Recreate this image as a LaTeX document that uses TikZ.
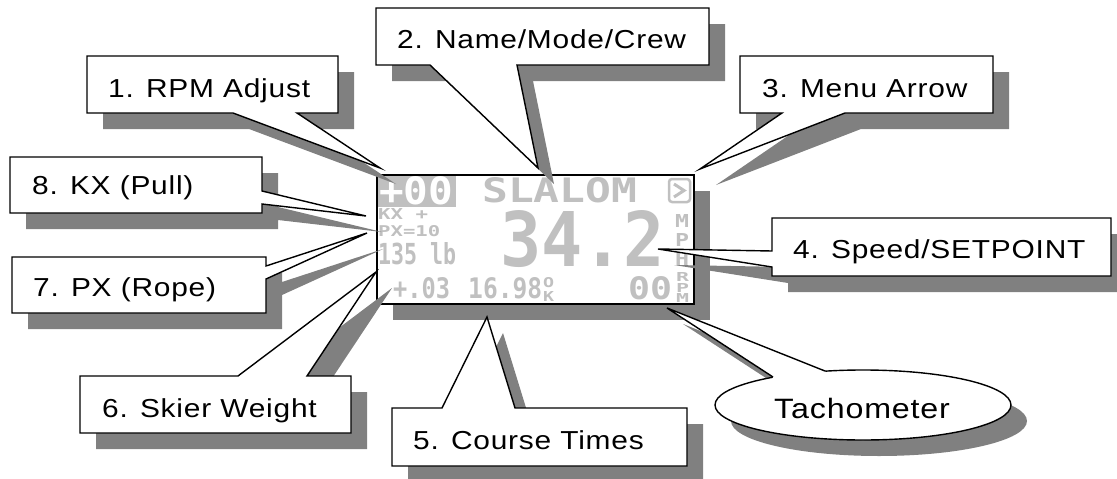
\documentclass[tikz,border=0pt]{standalone}
\usepackage{fontspec}
\newfontfamily\lblfont[FakeStretch=1.15,LetterSpace=3]{Liberation Sans}
\newfontfamily\dispfont{DejaVu Sans Mono}
\definecolor{lcd}{HTML}{C0C0C0}
\definecolor{shd}{HTML}{808080}
\newcommand\calloutA{(87,56)--(338,56)--(338,113)--(297,113)--(380,168)--(233,113)--(87,113)--cycle}
\newcommand\calloutB{(376,8)--(709,8)--(709,65)--(517,65)--(538,168)--(430,65)--(376,65)--cycle}
\newcommand\calloutC{(740,56)--(993,56)--(993,113)--(845,113)--(700,169)--(782,113)--(740,113)--cycle}
\newcommand\calloutD{(772,218)--(1111,218)--(1111,276)--(772,276)--(772,267)--(658,249)--(772,251)--cycle}
\newcommand\calloutE{(392,408)--(442,408)--(487,317)--(515,408)--(687,408)--(687,466)--(392,466)--cycle}
\newcommand\calloutF{(80,376)--(238,376)--(376,272)--(307,376)--(351,376)--(351,433)--(80,433)--cycle}
\newcommand\calloutG{(12,257)--(266,257)--(266,266)--(367,233)--(266,279)--(266,313)--(12,313)--cycle}
\newcommand\calloutH{(10,157)--(262,157)--(262,191)--(366,216)--(262,204)--(262,213)--(10,213)--cycle}
\newcommand\tachtail{(667,308)--(825,371)--(830,385)--(770,385)--(773,377)--cycle}
\begin{document}
\begin{tikzpicture}[x=1pt,y=-1pt,
  lbl/.style={anchor=base west, inner sep=0pt, font=\lblfont\fontsize{26}{30}\selectfont},
  disp/.style={anchor=south west, inner sep=0pt, text=lcd, font=\dispfont\bfseries},
  shadowfill/.style={fill=shd, draw=none},
  callout/.style={fill=white, draw=black, line width=1.4pt},
  lcdframe/.style={fill=white, draw=black, line width=2pt}]
\useasboundingbox (0,0) rectangle (1117,479);
\clip (0,0) rectangle (1117,479);
% display
\fill[shadowfill] (393,191) rectangle (710,320);
\draw[lcdframe] (377,175) rectangle (694,304);
\fill[lcd] (378,176) rectangle (456,207);
\node[disp, text=white] (crew) at (379,205) {\resizebox{74pt}{28pt}{+00}};
\node[disp] (mode) at (482,203) {\resizebox{155pt}{25pt}{SLALOM}};
\draw[lcd, line width=2.5pt, rounded corners=3pt] (669,179) rectangle (690,202);
\draw[lcd, line width=3pt] (674,184)--(684,190.5)--(674,197);
\node[disp] (kx) at (378,220) {\resizebox{50pt}{11pt}{KX +}};
\node[disp] (px) at (378,237) {\resizebox{62pt}{11pt}{PX=10}};
\node[disp] (wt) at (378,265) {\resizebox{78pt}{22pt}{135 lb}};
\node[disp] (spd) at (500,268) {\resizebox{165pt}{56pt}{34.2}};
\node[disp] (m1) at (675,228) {\resizebox{14pt}{13pt}{M}};
\node[disp] (p1) at (675,247) {\resizebox{14pt}{13pt}{P}};
\node[disp] (h1) at (675,266) {\resizebox{14pt}{13pt}{H}};
\node[disp] (adj) at (393,299) {\resizebox{57pt}{21pt}{+.03}};
\node[disp] (tm) at (468,299) {\resizebox{74pt}{21pt}{16.98}};
\node[disp] (ok1) at (543,288) {\resizebox{11pt}{10pt}{O}};
\node[disp] (ok2) at (543,302) {\resizebox{11pt}{10pt}{K}};
\node[disp] (tach) at (628,300) {\resizebox{44pt}{23pt}{00}};
\node[disp] (r2) at (676,282) {\resizebox{13pt}{9pt}{R}};
\node[disp] (p2) at (676,293) {\resizebox{13pt}{9pt}{P}};
\node[disp] (m2) at (676,303) {\resizebox{13pt}{9pt}{M}};
% shadows of callouts
\begin{scope}[shift={(16,16)}]
  \fill[shadowfill] \calloutA;
  \fill[shadowfill] \calloutB;
  \fill[shadowfill] \calloutC;
  \fill[shadowfill] \calloutD;
  \fill[shadowfill] \calloutE;
  \fill[shadowfill] \calloutF;
  \fill[shadowfill] \calloutG;
  \fill[shadowfill] \calloutH;
  \fill[shadowfill] (863,405) ellipse [x radius=148, y radius=35];
  \fill[shadowfill] \tachtail;
\end{scope}
% callouts
\draw[callout] \calloutA;
\draw[callout] \calloutB;
\draw[callout] \calloutC;
\draw[callout] \calloutD;
\draw[callout] \calloutE;
\draw[callout] \calloutF;
\draw[callout] \calloutG;
\draw[callout] \calloutH;
\draw[callout] (863,405) ellipse [x radius=148, y radius=35];
\fill[white] \tachtail;
\coordinate (tip) at (667,308);
\coordinate (ta) at (825,371);
\coordinate (tb) at (773,377);
\draw[line width=1.4pt] (ta) -- (tip) -- (tb);
% labels
\node[lbl] (l1) at (108,97) {1. RPM Adjust};
\node[lbl] (l2) at (397,48) {2. Name/Mode/Crew};
\node[lbl] (l3) at (762,97) {3. Menu Arrow};
\node[lbl] (l4) at (793,258) {4. Speed/SETPOINT};
\node[lbl] (l5) at (413,449) {5. Course Times};
\node[lbl] (l6) at (102,417) {6. Skier Weight};
\node[lbl] (l7) at (33,296) {7. PX (Rope)};
\node[lbl] (l8) at (32,194) {8. KX (Pull)};
\node[lbl, font=\lblfont\fontsize{28}{32}\selectfont] (lt) at (774,418) {Tachometer};
\end{tikzpicture}
\end{document}
